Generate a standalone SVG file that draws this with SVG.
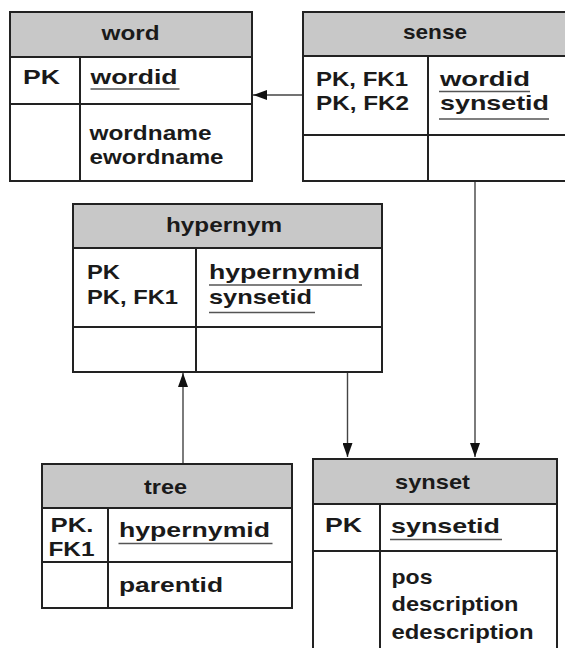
<svg xmlns="http://www.w3.org/2000/svg" width="565" height="648" viewBox="0 0 565 648">
<style>
.box{fill:#ffffff;stroke:#222222;stroke-width:2}
.hdr{fill:#c8c8c8;stroke:#222222;stroke-width:2}
.ln{stroke:#222222;stroke-width:2;fill:none}
.ul{stroke:#555555;stroke-width:1.6;fill:none}
.t{font-family:"Liberation Sans",Arial,sans-serif;font-weight:bold;font-size:21px;fill:#1a1a1a}
.con{stroke:#444444;stroke-width:1.4;fill:none}
</style>
<defs>
<marker id="arr" markerUnits="userSpaceOnUse" markerWidth="14" markerHeight="10" refX="14" refY="5" orient="auto">
<path d="M0,0 L14,5 L0,10 z" fill="#111111"/>
</marker>
</defs>
<rect width="565" height="648" fill="#ffffff"/>

<g id="connectors">
<line class="con" x1="303" y1="95" x2="253" y2="95" marker-end="url(#arr)"/>
<line class="con" x1="475" y1="181" x2="475" y2="457" marker-end="url(#arr)"/>
<line class="con" x1="347.5" y1="372" x2="347.5" y2="457" marker-end="url(#arr)"/>
<line class="con" x1="183" y1="464" x2="183" y2="373" marker-end="url(#arr)"/>
</g>

<g id="word">
<rect class="box" x="10" y="12" width="242" height="169"/>
<rect class="hdr" x="10" y="12" width="242" height="45"/>
<line class="ln" x1="10" y1="104" x2="252" y2="104"/>
<line class="ln" x1="80" y1="57" x2="80" y2="181"/>
<text class="t" x="101.5" y="40" textLength="58" lengthAdjust="spacingAndGlyphs">word</text>
<text class="t" x="23" y="84" textLength="37" lengthAdjust="spacingAndGlyphs">PK</text>
<text class="t" x="90.5" y="84" textLength="87" lengthAdjust="spacingAndGlyphs">wordid</text>
<line class="ul" x1="90.5" y1="89" x2="179.5" y2="89"/>
<text class="t" x="89.5" y="140" textLength="122" lengthAdjust="spacingAndGlyphs">wordname</text>
<text class="t" x="89.5" y="163.5" textLength="134" lengthAdjust="spacingAndGlyphs">ewordname</text>
</g>

<g id="sense">
<rect class="box" x="303" y="12" width="275" height="169"/>
<rect class="hdr" x="303" y="12" width="275" height="44"/>
<line class="ln" x1="303" y1="135" x2="578" y2="135"/>
<line class="ln" x1="428" y1="56" x2="428" y2="181"/>
<text class="t" x="403" y="39" textLength="64" lengthAdjust="spacingAndGlyphs">sense</text>
<text class="t" x="316" y="86" textLength="92" lengthAdjust="spacingAndGlyphs">PK, FK1</text>
<text class="t" x="316" y="110" textLength="93" lengthAdjust="spacingAndGlyphs">PK, FK2</text>
<text class="t" x="440" y="86" textLength="90" lengthAdjust="spacingAndGlyphs">wordid</text>
<line class="ul" x1="439" y1="91.5" x2="530" y2="91.5"/>
<text class="t" x="440" y="110" textLength="109" lengthAdjust="spacingAndGlyphs">synsetid</text>
<line class="ul" x1="439" y1="119" x2="549" y2="119"/>
</g>

<g id="hypernym">
<rect class="box" x="73" y="204" width="309" height="168"/>
<rect class="hdr" x="73" y="204" width="309" height="44"/>
<line class="ln" x1="73" y1="327" x2="382" y2="327"/>
<line class="ln" x1="196" y1="248" x2="196" y2="372"/>
<text class="t" x="166" y="232" textLength="116" lengthAdjust="spacingAndGlyphs">hypernym</text>
<text class="t" x="87" y="279" textLength="33" lengthAdjust="spacingAndGlyphs">PK</text>
<text class="t" x="87" y="303.5" textLength="91" lengthAdjust="spacingAndGlyphs">PK, FK1</text>
<text class="t" x="209" y="279" textLength="151" lengthAdjust="spacingAndGlyphs">hypernymid</text>
<line class="ul" x1="209" y1="285" x2="362" y2="285"/>
<text class="t" x="209" y="303.5" textLength="103" lengthAdjust="spacingAndGlyphs">synsetid</text>
<line class="ul" x1="209" y1="312.5" x2="315" y2="312.5"/>
</g>

<g id="tree">
<rect class="box" x="42" y="464" width="250" height="144"/>
<rect class="hdr" x="42" y="464" width="250" height="44"/>
<line class="ln" x1="42" y1="562" x2="292" y2="562"/>
<line class="ln" x1="108" y1="507" x2="108" y2="608"/>
<text class="t" x="144" y="493.5" textLength="43" lengthAdjust="spacingAndGlyphs">tree</text>
<text class="t" x="50.5" y="532" textLength="43" lengthAdjust="spacingAndGlyphs">PK.</text>
<text class="t" x="48.5" y="555.5" textLength="46" lengthAdjust="spacingAndGlyphs">FK1</text>
<text class="t" x="119" y="537" textLength="151" lengthAdjust="spacingAndGlyphs">hypernymid</text>
<line class="ul" x1="118.5" y1="543.5" x2="272.5" y2="543.5"/>
<text class="t" x="119" y="592" textLength="104" lengthAdjust="spacingAndGlyphs">parentid</text>
</g>

<g id="synset">
<rect class="box" x="313" y="459" width="244" height="200"/>
<rect class="hdr" x="313" y="459" width="244" height="45"/>
<line class="ln" x1="313" y1="551" x2="557" y2="551"/>
<line class="ln" x1="380" y1="504" x2="380" y2="659"/>
<text class="t" x="395" y="488.5" textLength="75" lengthAdjust="spacingAndGlyphs">synset</text>
<text class="t" x="325" y="532" textLength="37" lengthAdjust="spacingAndGlyphs">PK</text>
<text class="t" x="391" y="533" textLength="109" lengthAdjust="spacingAndGlyphs">synsetid</text>
<line class="ul" x1="390" y1="539.5" x2="502" y2="539.5"/>
<text class="t" x="391.5" y="583.5" textLength="41" lengthAdjust="spacingAndGlyphs">pos</text>
<text class="t" x="391.5" y="611" textLength="127" lengthAdjust="spacingAndGlyphs">description</text>
<text class="t" x="391.5" y="638.5" textLength="142" lengthAdjust="spacingAndGlyphs">edescription</text>
</g>
</svg>
